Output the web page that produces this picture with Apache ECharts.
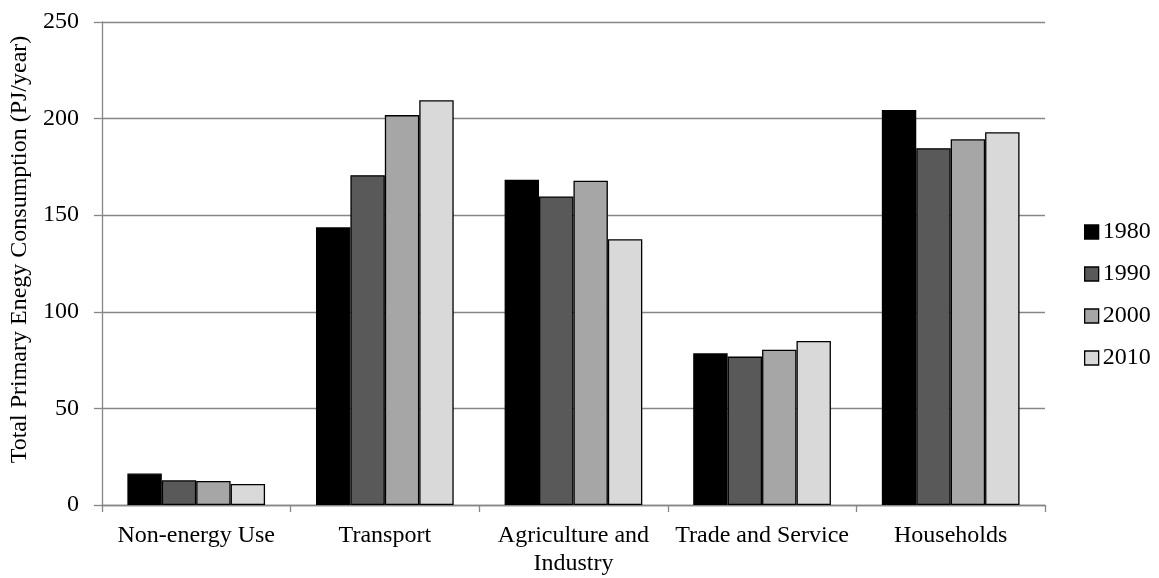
<!DOCTYPE html>
<html><head><meta charset="utf-8">
<script src="https://cdn.jsdelivr.net/npm/echarts@6/dist/echarts.min.js"></script>
<style>html,body{margin:0;padding:0;background:#fff}#c{width:1159px;height:578px}</style>
</head><body><div id="c"></div>
<script>
const categories = ['Non-energy Use', 'Transport', 'Agriculture and\nIndustry', 'Trade and Service', 'Households'];
const seriesNames = ['1980', '1990', '2000', '2010'];
const v1980 = [16.3, 143.7, 168.3, 78.5, 204.5];
const v1990 = [12.8, 170.7, 159.7, 76.8, 184.7];
const v2000 = [12.4, 201.8, 167.8, 80.4, 189.3];
const v2010 = [10.9, 209.5, 137.6, 84.9, 192.9];
const colors = ['#000000', '#595959', '#a6a6a6', '#d9d9d9'];
const yTicks = [0, 50, 100, 150, 200, 250];
const yTitle = 'Total Primary Enegy Consumption (PJ/year)';

const values = [v1980, v1990, v2000, v2010];
const font = "'Liberation Serif', 'Times New Roman', serif";
const chart = echarts.init(document.getElementById('c'), null, {renderer: 'canvas'});
chart.setOption({
  animation: false,
  textStyle: {fontFamily: font},
  grid: {left: 100, right: 114, top: 22, bottom: 72, containLabel: false},
  legend: {
    orient: 'vertical', left: 1084, top: 220, padding: 0,
    icon: 'rect', itemWidth: 14, itemHeight: 14, itemGap: 18,
    textStyle: {fontFamily: font, fontSize: 24, lineHeight: 24, color: '#000', padding: [0, 0, 0, -1]},
    data: seriesNames.map((n, i) => ({name: n, itemStyle: {color: colors[i], borderColor: '#000', borderWidth: 1.3}}))
  },
  xAxis: {
    type: 'category', data: categories,
    axisLine: {lineStyle: {color: '#868686', width: 1.3}},
    axisTick: {show: true, alignWithLabel: false, length: 7, lineStyle: {color: '#868686', width: 1.3}},
    axisLabel: {fontFamily: font, fontSize: 24, color: '#000', margin: 17, lineHeight: 28, interval: 0}
  },
  yAxis: {
    type: 'value', min: yTicks[0], max: yTicks[yTicks.length - 1], interval: 50,
    name: yTitle, nameLocation: 'middle', nameGap: 60, nameRotate: 90,
    nameTextStyle: {fontFamily: font, fontSize: 24, color: '#000', padding: [0, 0, 0, 28]},
    axisLine: {show: true, lineStyle: {color: '#868686', width: 1.3}},
    axisTick: {show: true, length: 8, lineStyle: {color: '#868686', width: 1.3}},
    axisLabel: {fontFamily: font, fontSize: 24, color: '#000', margin: 23},
    splitLine: {show: true, lineStyle: {color: '#868686', width: 1.3}}
  },
  series: seriesNames.map((n, i) => ({
    name: n, type: 'bar', data: values[i],
    barGap: '0%', barCategoryGap: '27%',
    itemStyle: {color: colors[i], borderColor: '#000', borderWidth: 1.3}
  }))
});
</script></body></html>
